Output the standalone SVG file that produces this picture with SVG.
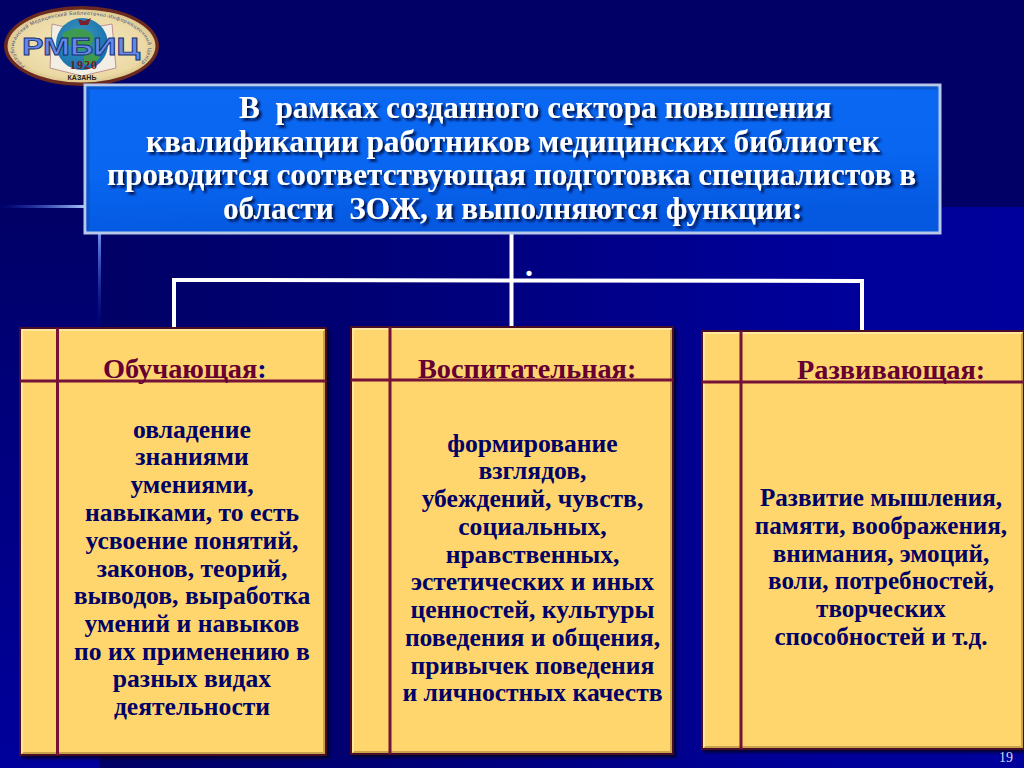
<svg xmlns="http://www.w3.org/2000/svg" width="1024" height="768" viewBox="0 0 1024 768">
<style>
text{font-family:"Liberation Serif","Times New Roman",serif;font-weight:bold;white-space:pre}
.title{font-size:31.2px;fill:#fff;filter:url(#ts)}
.lab{font-size:28.3px;fill:#660033;text-anchor:start}
.body{font-size:25.6px;fill:#000066;text-anchor:middle}
.b3{font-size:25.1px}
.card{fill:#FFD56E;stroke:#4A0A28;stroke-width:2;filter:url(#cs)}
.hi{fill:none;stroke:#FFE7A0;stroke-width:2}
.lo{fill:none;stroke:#C9A24E;stroke-width:2}
.rule{stroke:#741238;stroke-width:3;fill:none}
.wire{stroke:#fff;stroke-width:4;fill:none}
.sans{font-family:"Liberation Sans",Arial,sans-serif}
</style>
<defs>
<linearGradient id="bgr" x1="0" x2="1" y1="0" y2="0"><stop offset="0" stop-color="#000066"/><stop offset="0.3" stop-color="#000075"/><stop offset="0.75" stop-color="#000099"/><stop offset="1" stop-color="#00009C"/></linearGradient>
<linearGradient id="bgl" x1="0" x2="0" y1="0" y2="1"><stop offset="0" stop-color="#000066"/><stop offset="0.45" stop-color="#000080"/><stop offset="1" stop-color="#00009C"/></linearGradient>
<linearGradient id="box" x1="0" x2="0.2" y1="0" y2="1"><stop offset="0" stop-color="#0A68F2"/><stop offset="0.6" stop-color="#0866F0"/><stop offset="1" stop-color="#0558E0"/></linearGradient>
<linearGradient id="gh" x1="0" x2="1" y1="0" y2="0"><stop offset="0" stop-color="#2050E0" stop-opacity="0"/><stop offset="1" stop-color="#A8C0F8"/></linearGradient>
<linearGradient id="gv" x1="0" x2="0" y1="0" y2="1"><stop offset="0" stop-color="#7090F0"/><stop offset="1" stop-color="#1030C0" stop-opacity="0"/></linearGradient>
<radialGradient id="ov" cx="0.5" cy="0.5" r="0.55"><stop offset="0" stop-color="#F6EBC4"/><stop offset="0.8" stop-color="#EBD9A4"/><stop offset="1" stop-color="#D4B67C"/></radialGradient>
<radialGradient id="gl" cx="0.45" cy="0.4" r="0.6"><stop offset="0" stop-color="#3E9AB8"/><stop offset="1" stop-color="#1870B0"/></radialGradient>
<filter id="ts" x="-5%" y="-20%" width="110%" height="150%"><feDropShadow dx="2.500" dy="2.500" stdDeviation="0.9" flood-color="#001040" flood-opacity="0.95"/></filter>
<filter id="cs" x="-3%" y="-3%" width="106%" height="106%"><feDropShadow dx="2.500" dy="2.500" stdDeviation="1.500" flood-color="#000020" flood-opacity="0.85"/></filter>
<path id="ringT" d="M25,66 A67,33 0 1 1 137,66"/>
</defs>

<rect width="1024" height="768" fill="#000066"/>
<rect x="0" y="207" width="100" height="561" fill="url(#bgl)"/>
<rect x="100" y="207" width="924" height="561" fill="url(#bgr)"/>
<rect x="0" y="205" width="84" height="3" fill="url(#gh)"/>
<rect x="98" y="234" width="3" height="92" fill="url(#gv)"/>

<g id="logo">
<ellipse cx="81.500" cy="46" rx="77.500" ry="40" fill="#6A2A20"/>
<ellipse cx="81.500" cy="46" rx="74" ry="36.500" fill="url(#ov)"/>
<path d="M52,24 L78,30 L112,24 L116,68 L82,76 L50,68Z" fill="#F2EEE4" stroke="#C09090" stroke-width="1"/>
<circle cx="82" cy="44" r="26" fill="url(#gl)"/>
<path d="M62,34 Q76,24 92,33 Q96,44 84,50 Q70,52 62,34Z M84,54 Q96,52 100,58 Q92,66 84,64Z" fill="#3E9A50"/>
<path d="M78,19 L84,21 L91,18 L88,25 L80,25Z" fill="#7A2030"/>
<text class="sans" x="81" y="55" text-anchor="middle" textLength="118" lengthAdjust="spacingAndGlyphs" style="font-size:24px;fill:#6688E8;stroke:#14306E;stroke-width:.8">РМБИЦ</text>
<text x="84" y="69" text-anchor="middle" style="font-size:12px;fill:#7A1520;letter-spacing:1px">1920</text>
<text class="sans" x="82" y="80" text-anchor="middle" style="font-size:7px;fill:#222">КАЗАНЬ</text>
<text class="sans" style="font-size:5.200px;font-weight:normal;fill:#405080"><textPath href="#ringT" textLength="200">Республиканский Медицинский Библиотечно-Информационный Центр</textPath></text>
</g>

<g id="connectors">
<path class="wire" d="M511.500,232V328"/>
<path class="wire" d="M174,328V280L862,281V332"/>
</g>
<text x="525" y="276" style="font-size:32px;fill:#fff">.</text>

<g id="header">
<rect x="85" y="85" width="855" height="148" fill="url(#box)" stroke="#B8C8E8" stroke-width="3"/>
<path d="M88,230V88H937" fill="none" stroke="#0A50C0" stroke-width="3" stroke-opacity=".7"/>
<text class="title" x="239" y="118">В  рамках созданного сектора повышения</text>
<text class="title" x="146" y="152">квалификации работников медицинских библиотек</text>
<text class="title" x="107" y="185">проводится соответствующая подготовка специалистов в</text>
<text class="title" x="223" y="219">области  ЗОЖ, и выполняются функции:</text>
</g>

<g id="card1">
<rect class="card" x="20" y="328" width="306" height="427"/>
<path class="lo" d="M22,753H324V330"/>
<path class="hi" d="M22,753V330H324"/>
<path class="rule" d="M57.500,328V755M20,381H326"/>
<text class="lab" x="103" y="378">Обучающая<tspan fill="#000080">:</tspan></text>
<text class="body" x="192" y="438">овладение</text>
<text class="body" x="192" y="465">знаниями</text>
<text class="body" x="192" y="493">умениями,</text>
<text class="body" x="192" y="521">навыками, то есть</text>
<text class="body" x="192" y="549">усвоение понятий,</text>
<text class="body" x="192" y="577">законов, теорий,</text>
<text class="body" x="192" y="604">выводов, выработка</text>
<text class="body" x="192" y="632">умений и навыков</text>
<text class="body" x="192" y="660">по их применению в</text>
<text class="body" x="192" y="687">разных видах</text>
<text class="body" x="192" y="715">деятельности</text>
</g>

<g id="card2">
<rect class="card" x="351" y="327" width="322" height="427"/>
<path class="lo" d="M353,752H671V329"/>
<path class="hi" d="M353,752V329H671"/>
<path class="rule" d="M390,327V754M351,380H673"/>
<text class="lab" x="418" y="378">Воспитательная:</text>
<text class="body" x="532.500" y="452">формирование</text>
<text class="body" x="532.500" y="479">взглядов,</text>
<text class="body" x="532.500" y="507">убеждений, чувств,</text>
<text class="body" x="532.500" y="535">социальных,</text>
<text class="body" x="532.500" y="563">нравственных,</text>
<text class="body" x="532.500" y="590">эстетических и иных</text>
<text class="body" x="532.500" y="618">ценностей, культуры</text>
<text class="body" x="532.500" y="646">поведения и общения,</text>
<text class="body" x="532.500" y="674">привычек поведения</text>
<text class="body" x="532.500" y="701">и личностных качеств</text>
</g>

<g id="card3">
<rect class="card" x="702" y="331" width="322" height="418"/>
<path class="lo" d="M704,747H1022V333"/>
<path class="hi" d="M704,747V333H1022"/>
<path class="rule" d="M741,331V749M702,382H1024"/>
<text class="lab" x="797" y="379">Развивающая:</text>
<text class="body b3" x="881" y="506">Развитие мышления,</text>
<text class="body b3" x="881" y="534">памяти, воображения,</text>
<text class="body b3" x="881" y="562">внимания, эмоций,</text>
<text class="body b3" x="881" y="589">воли, потребностей,</text>
<text class="body b3" x="881" y="617">творческих</text>
<text class="body b3" x="881" y="645">способностей и т.д.</text>
</g>

<text x="1006" y="762" text-anchor="middle" style="font-size:14px;font-weight:normal;fill:#D8D8E8">19</text>
</svg>
